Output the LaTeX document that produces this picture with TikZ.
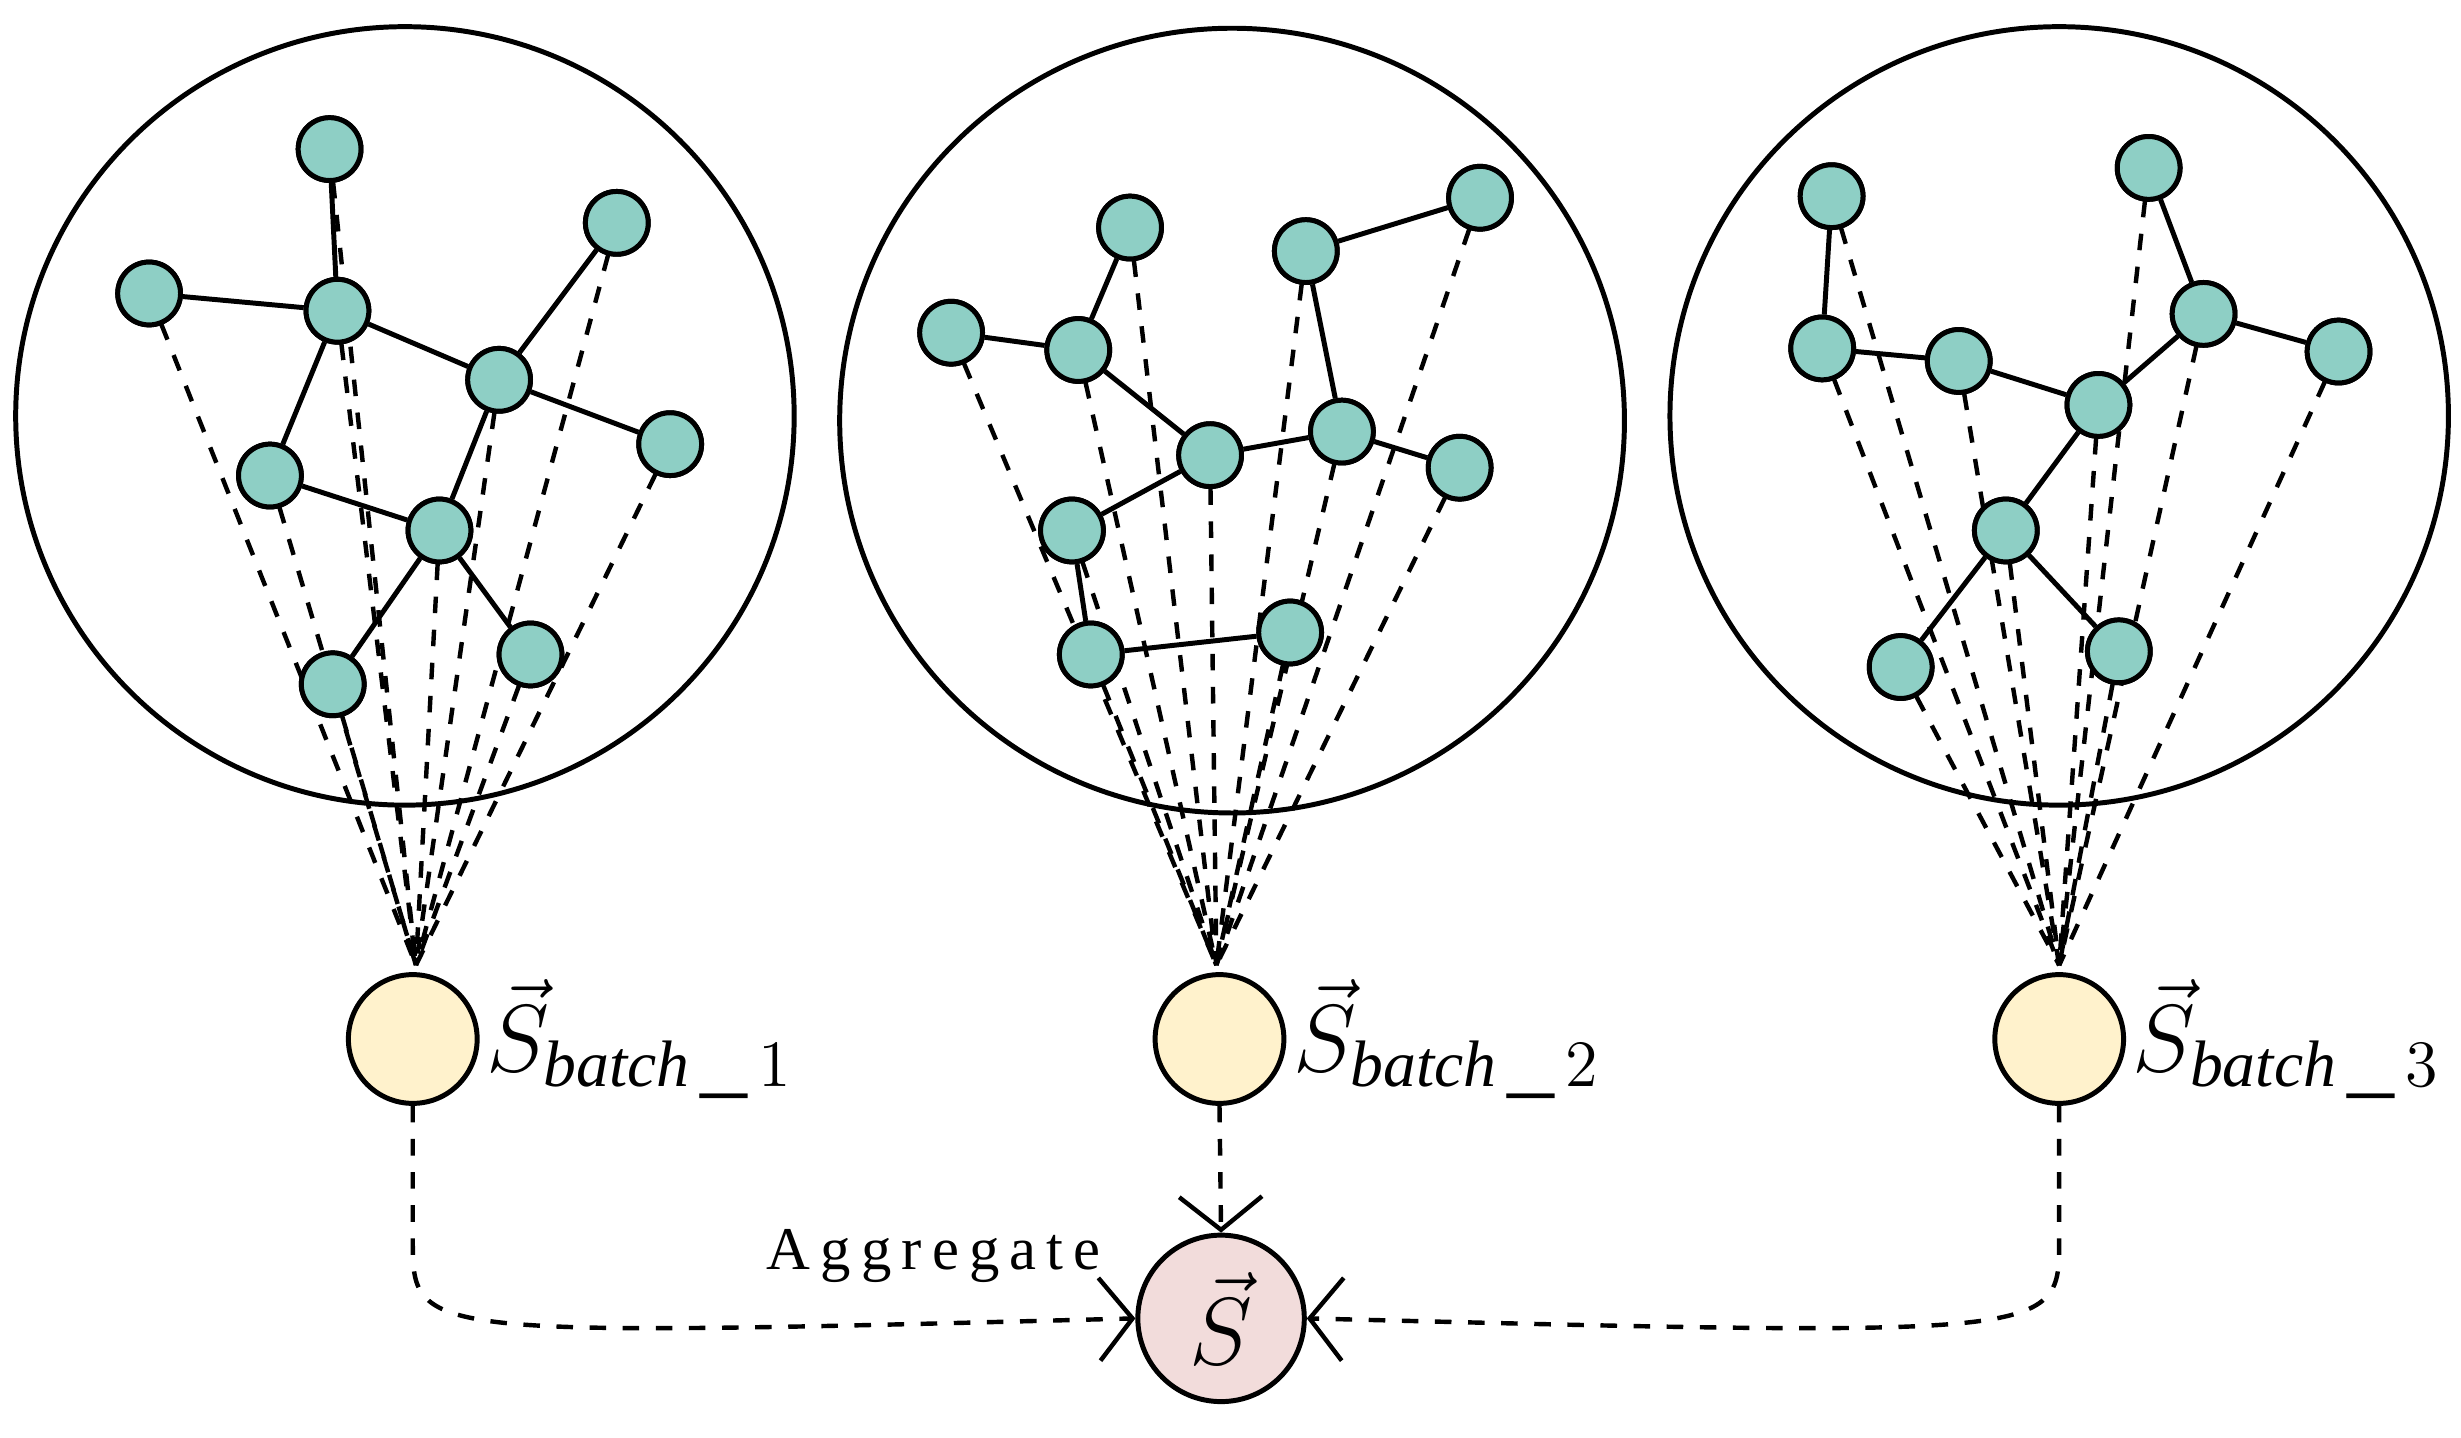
\documentclass[tikz,border=0pt]{standalone}
\usepackage{fontspec}
\setmainfont{Liberation Serif}
\usetikzlibrary{arrows.meta}
\begin{document}
\begin{tikzpicture}[x=0.01cm,y=-0.01cm,
  g/.style={circle,draw,line width=0.9pt,fill={rgb,255:red,142;green,207;blue,197},minimum size=0.4cm,inner sep=0},
  big/.style={circle,draw,line width=0.9pt,minimum size=0.82cm,inner sep=0,fill={rgb,255:red,255;green,242;blue,204}},
  e/.style={line width=0.9pt},
  d/.style={dashed,line width=0.8pt},
  ar/.style={dashed,line width=0.8pt,-{Straight Barb[length=6pt,width=15pt,line width=0.8pt]}},
  lab/.style={anchor=west,inner sep=1pt,font=\fontsize{17}{20}\selectfont}]
\useasboundingbox (0,0) rectangle (1568,916);
\draw[line width=0.9pt] (258,265) circle (248);
\draw[line width=0.9pt] (785,268) circle (250);
\draw[line width=0.9pt] (1312,265) circle (248);
% graph 1
\coordinate (t1) at (265,615);
\foreach \n/\p in {1/{210,95},2/{95,187},3/{215,198},4/{393,142},5/{318,242},6/{427,283},7/{172,303},8/{280,338},9/{212,436},10/{338,417}}
  \node[g] (a\n) at (\p) {};
\foreach \u/\v in {1/3,2/3,3/7,3/5,5/4,5/6,5/8,7/8,8/9,8/10} \draw[e] (a\u)--(a\v);
\foreach \n in {1,...,10} \draw[d] (a\n.center)--(t1);
\foreach \n in {1,...,10} \node[g] at (a\n) {};
% graph 2
\coordinate (t2) at (775,615);
\foreach \n/\p in {1/{720,145},2/{606,212},3/{687,223},4/{832,160},5/{943,126},6/{771,290},7/{855,275},8/{930,298},9/{683,338},10/{695,417},11/{822,403}}
  \node[g] (c\n) at (\p) {};
\foreach \u/\v in {1/3,2/3,3/6,4/5,4/7,6/7,7/8,6/9,9/10,10/11} \draw[e] (c\u)--(c\v);
\foreach \n in {1,...,11} \draw[d] (c\n.center)--(t2);
\foreach \n in {1,...,11} \node[g] at (c\n) {};
% graph 3
\coordinate (t3) at (1312,615);
\foreach \n/\p in {1/{1167,125},2/{1369,107},3/{1161,222},4/{1248,230},5/{1404,200},6/{1490,224},7/{1337,258},8/{1278,338},9/{1211,425},10/{1350,415}}
  \node[g] (d\n) at (\p) {};
\foreach \u/\v in {1/3,3/4,4/7,2/5,5/6,5/7,7/8,8/9,8/10} \draw[e] (d\u)--(d\v);
\foreach \n in {1,...,10} \draw[d] (d\n.center)--(t3);
\foreach \n in {1,...,10} \node[g] at (d\n) {};
% batch nodes
\node[big] (b1) at (263,662) {};
\node[big] (b2) at (777,662) {};
\node[big] (b3) at (1312,662) {};
\node[lab] at (b1.east) {$\vec{S}_{\mathit{batch}\,\_\,1}$};
\node[lab] at (b2.east) {$\vec{S}_{\mathit{batch}\,\_\,2}$};
\node[lab] at (b3.east) {$\vec{S}_{\mathit{batch}\,\_\,3}$};
\node[circle,draw,line width=0.9pt,minimum size=1.06cm,inner sep=0,fill={rgb,255:red,242;green,220;blue,219},font=\fontsize{18}{22}\selectfont] (S) at (778,840) {$\vec{S}$};
\draw[ar] (b1.south) -- (263,790) .. controls (263,852) .. (S.west);
\draw[ar] (b3.south) -- (1312,790) .. controls (1312,852) .. (S.east);
\draw[ar] (b2.south) -- (S.north);
\node[font=\fontsize{11}{13}\selectfont] at (595,800) {A\,g\,g\,r\,e\,g\,a\,t\,e};
\end{tikzpicture}
\end{document}
